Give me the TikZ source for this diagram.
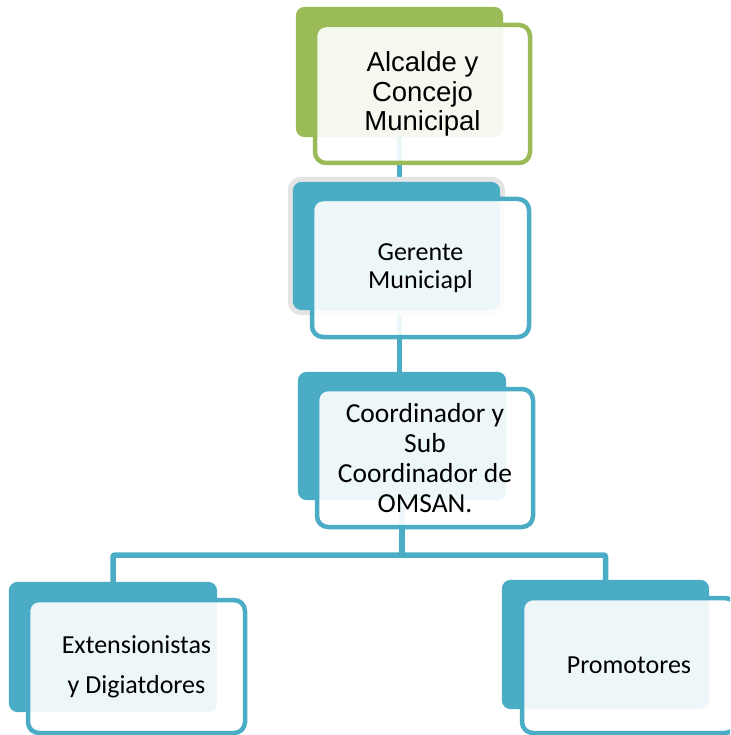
\documentclass[tikz,border=0pt]{standalone}
\usepackage{fontspec}
\setmainfont{Carlito}
\newfontfamily\arialf{Liberation Sans}
\definecolor{olgreen}{HTML}{9BBB59}
\definecolor{olblue}{HTML}{4BACC6}
\definecolor{halogray}{HTML}{E4E4E4}
\begin{document}
\begin{tikzpicture}[x=1pt,y=-1pt,
  backbox/.style={rectangle, rounded corners=9pt, inner sep=0pt, draw=none},
  frontbox/.style={rectangle, rounded corners=11pt, inner sep=0pt, line width=4.5pt,
     fill=white, fill opacity=0.9, text opacity=1, align=center},
  conn/.style={draw=olblue, line width=5.5pt, rounded corners=2pt}]
\useasboundingbox (0,0) rectangle (730,735);
\clip (0,0) rectangle (730,735);
% back boxes (positions only, drawn later)
\path node[backbox, minimum width=207pt, minimum height=130pt] (b1) at (399.5,72) {};
\path node[backbox, minimum width=207pt, minimum height=128pt] (b2) at (396.5,246) {};
\path node[backbox, minimum width=208pt, minimum height=128pt] (b3) at (402,436) {};
\path node[backbox, minimum width=208pt, minimum height=130pt] (b4) at (113,647) {};
\path node[backbox, minimum width=207pt, minimum height=129pt] (b5) at (605.5,644.5) {};
\coordinate (j) at (402,555);
% connectors
\draw[conn] (b1.center) -- (b2.center -| b1.center);
\draw[conn] (b2.center -| b1.center) -- (b3.center -| b1.center);
\draw[conn] (b3.center) -- (j);
\draw[conn] (b4.center) |- (j) -| (b5.center);
% halo of box 2
\draw[halogray, line width=5pt, rounded corners=11pt] ([shift={(-2.5,-2.5)}]b2.north west) rectangle ([shift={(2.5,2.5)}]b2.south east);
% back boxes fill
\fill[olgreen, rounded corners=9pt] (b1.north west) rectangle (b1.south east);
\fill[olblue, rounded corners=9pt] (b2.north west) rectangle (b2.south east);
\fill[olblue, rounded corners=9pt] (b3.north west) rectangle (b3.south east);
\fill[olblue, rounded corners=9pt] (b4.north west) rectangle (b4.south east);
\fill[olblue, rounded corners=9pt] (b5.north west) rectangle (b5.south east);
% front boxes with text
\node[frontbox, draw=olgreen, minimum width=215pt, minimum height=138pt,
  font=\arialf\fontsize{27.5}{29.5}\selectfont] (f1) at (422.5,94) {Alcalde y\\Concejo\\Municipal};
\node[frontbox, draw=olblue, minimum width=217pt, minimum height=138pt,
  font=\fontsize{26}{28}\selectfont] (f2) at (420.5,268) {Gerente\\Municiapl};
\node[frontbox, draw=olblue, minimum width=216pt, minimum height=138pt,
  font=\fontsize{27.5}{30}\selectfont] (f3) at (425,458) {Coordinador y\\Sub\\Coordinador de\\OMSAN.};
\node[frontbox, draw=olblue, minimum width=217pt, minimum height=133pt,
  font=\fontsize{26}{40}\selectfont] (f4) at (136.5,666.5) {Extensionistas\\y Digiatdores};
\node[frontbox, draw=olblue, minimum width=214pt, minimum height=135pt,
  font=\fontsize{26}{30}\selectfont] (f5) at (629,665.5) {Promotores};
\end{tikzpicture}
\end{document}
